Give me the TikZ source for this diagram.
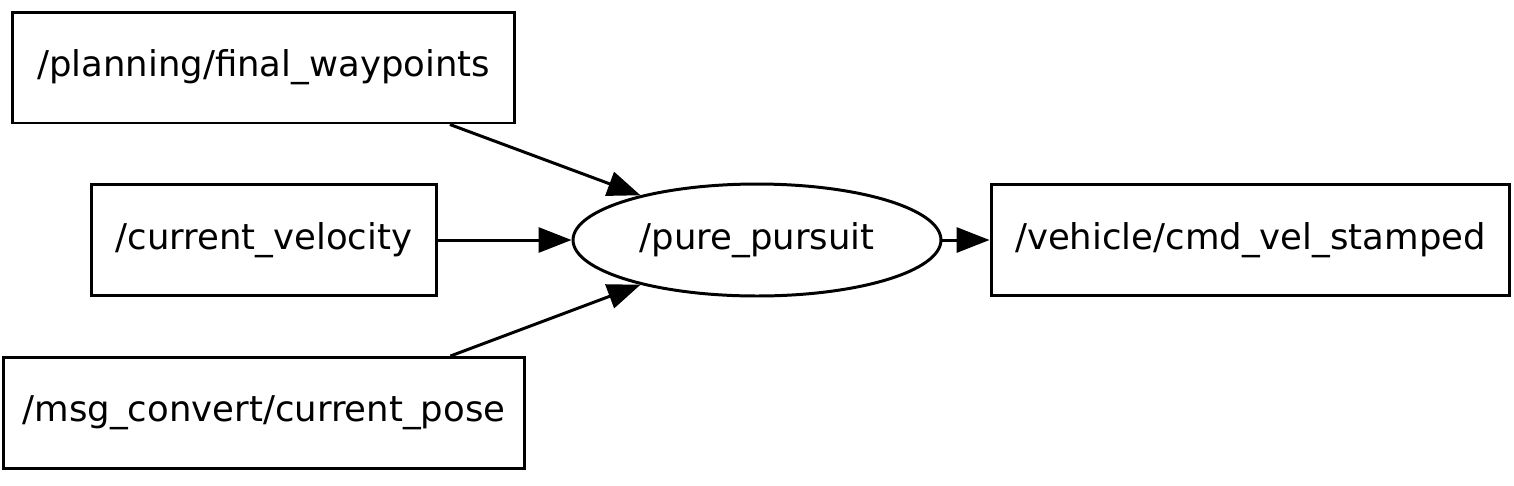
\documentclass[tikz,border=0pt]{standalone}
\usepackage{fontspec}
\setmainfont{DejaVu Sans}
\usetikzlibrary{arrows.meta, positioning, shapes.geometric}

\begin{document}
\begin{tikzpicture}[
  x=0.02cm, y=-0.02cm,
  every node/.style={font=\fontsize{20.2}{24}\selectfont},
  topic/.style={rectangle, draw=black, line width=1.7pt, inner sep=0pt,
                minimum height=2.22cm},
  nodebox/.style={ellipse, draw=black, line width=1.7pt, inner sep=0pt,
                  minimum width=7.36cm, minimum height=2.24cm},
  arrow/.style={-{Triangle[length=0.66cm, width=0.5cm]}, line width=1.7pt}
]
  \useasboundingbox (0,0) rectangle (1514,485);

  % topics on the left
  \node[topic, minimum width=10.06cm] (wp)  at (263.5, 67.5) {/planning/final\_waypoints};
  \node[topic, minimum width=6.92cm]  (vel) at (264, 240)    {/current\_velocity};
  \node[topic, minimum width=10.44cm] (pose) at (264, 413)   {/msg\_convert/current\_pose};

  % node and output topic
  \node[nodebox] (pp) at (757, 240) {/pure\_pursuit};
  \node[topic, minimum width=10.38cm] (cmd) at (1250.5, 240) {/vehicle/cmd\_vel\_stamped};

  \draw[arrow] (wp.-17.5)  -- (pp.159);
  \draw[arrow] (vel)       -- (pp);
  \draw[arrow] (pose.17.5) -- (pp.201);
  \draw[arrow] (pp)        -- (cmd);
\end{tikzpicture}
\end{document}
